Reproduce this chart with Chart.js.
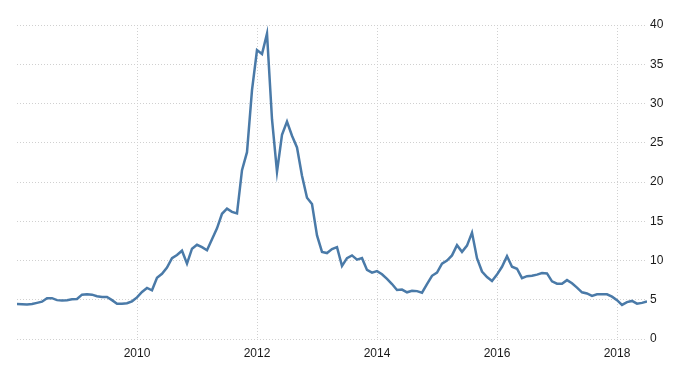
<!DOCTYPE html>
<html>
<head>
<meta charset="utf-8">
<script src="https://cdn.jsdelivr.net/npm/chart.js@4/dist/chart.umd.min.js"></script>
<style>
  html, body { margin: 0; padding: 0; background: #ffffff; }
  #wrap { width: 700px; height: 375px; position: relative; }
</style>
</head>
<body>
<div id="wrap"><canvas id="c" width="700" height="375"></canvas></div>
<script>
// Monthly series starting January 2008
const startYear = 2008;
const startMonth = 1;
const values = [
  4.45, 4.42, 4.40, 4.45, 4.60, 4.75, 5.20, 5.20, 4.95, 4.90, 4.95, 5.05,
  5.10, 5.65, 5.70, 5.65, 5.45, 5.35, 5.35, 4.95, 4.50, 4.50, 4.55, 4.80,
  5.30, 6.00, 6.50, 6.20, 7.80, 8.30, 9.10, 10.30, 10.70, 11.25, 9.60, 11.50,
  12.00, 11.70, 11.30, 12.70, 14.10, 15.95, 16.60, 16.20, 16.00, 21.50, 23.80, 31.70,
  36.80, 36.30, 38.90, 28.00, 21.30, 26.00, 27.70, 25.90, 24.40, 20.80, 18.00, 17.20,
  13.20, 11.10, 10.95, 11.45, 11.70, 9.30, 10.30, 10.65, 10.10, 10.30, 8.80, 8.45,
  8.65, 8.25, 7.65, 7.00, 6.25, 6.30, 5.95, 6.15, 6.10, 5.90, 7.00, 8.05,
  8.45, 9.60, 10.00, 10.65, 11.95, 11.10, 11.90, 13.55, 10.30, 8.60, 7.90, 7.40,
  8.20, 9.20, 10.55, 9.20, 8.95, 7.75, 8.00, 8.05, 8.20, 8.40, 8.35, 7.35,
  7.05, 7.05, 7.50, 7.10, 6.55, 5.95, 5.80, 5.50, 5.70, 5.70, 5.70, 5.40,
  4.95, 4.35, 4.70, 4.85, 4.50, 4.60, 4.80
];
const xTickYears = [2010, 2012, 2014, 2016, 2018];
const yTicks = [0, 5, 10, 15, 20, 25, 30, 35, 40];

const points = values.map((v, i) => ({ x: startYear + (startMonth - 1 + i) / 12, y: v }));

const tickFont = { family: "'Liberation Sans Narrow', 'Arial Narrow', 'Liberation Sans', Arial, sans-serif", size: 12 };
const gridStyle = { color: '#d0d0d0', lineWidth: 1, drawTicks: false };

new Chart(document.getElementById('c'), {
  type: 'line',
  data: {
    datasets: [{
      data: points,
      borderColor: '#4a7aa8',
      borderWidth: 2.5,
      pointRadius: 0,
      tension: 0,
      fill: false
    }]
  },
  options: {
    responsive: false,
    animation: false,
    devicePixelRatio: 1,
    layout: { padding: { left: 17, top: 25, right: 0, bottom: 0 } },
    plugins: { legend: { display: false }, tooltip: { enabled: false } },
    scales: {
      x: {
        type: 'linear',
        min: 2008,
        max: 2018.5,
        border: { display: false, dash: [1, 2] },
        grid: gridStyle,
        ticks: {
          font: tickFont,
          color: '#1a1a1a',
          padding: 7,
          maxRotation: 0,
          callback: v => String(v)
        },
        afterBuildTicks: s => { s.ticks = xTickYears.map(v => ({ value: v })); },
        afterFit: s => { s.height = 36; }
      },
      y: {
        position: 'right',
        min: 0,
        max: 40,
        border: { display: false, dash: [1, 2] },
        grid: gridStyle,
        ticks: {
          font: tickFont,
          color: '#1a1a1a',
          padding: 3
        },
        afterBuildTicks: s => { s.ticks = yTicks.map(v => ({ value: v })); },
        afterFit: s => { s.width = 53; }
      }
    }
  }
});
</script>
</body>
</html>
